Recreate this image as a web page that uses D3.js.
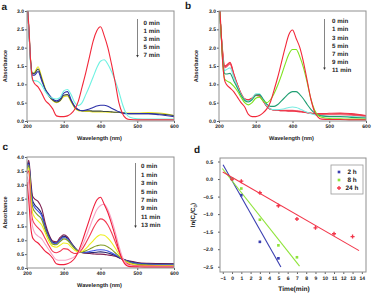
<!DOCTYPE html>
<html><head><meta charset="utf-8">
<script src="https://cdn.jsdelivr.net/npm/d3@7"></script>
<style>
body{margin:0;background:#fff;-webkit-font-smoothing:antialiased}
svg{display:block}
text{font-family:"Liberation Sans",Arial,sans-serif;font-weight:bold;fill:#1a1a1a;text-rendering:geometricPrecision}
</style>
</head><body>
<svg id="chart" width="373" height="294"></svg>
<script>
// ---------- DATA ----------
const wl = [200,205,210,215,220,230,240,250,260,270,280,290,300,310,320,330,340,350,360,370,380,390,400,410,420,430,440,450,460,470,480,500,530,560,600];
const wlTicks = [200,300,400,500,600];

// panel a
const aLabels = ["0 min","1 min","3 min","5 min","7 min"];
const a0 = [3.2,2.6,1.6,1.15,1.03,0.93,0.76,0.56,0.46,0.33,0.14,0.12,0.12,0.14,0.2,0.32,0.55,0.93,1.32,1.75,2.18,2.46,2.57,2.33,2.0,1.55,1.05,0.5,0.2,0.07,0.04,0.03,0.03,0.03,0.03];
const a1 = [3.3,2.5,1.5,1.1,1.1,1.08,0.98,0.8,0.68,0.62,0.6,0.64,0.82,0.86,0.72,0.5,0.42,0.5,0.72,0.95,1.2,1.45,1.63,1.67,1.55,1.35,1.1,0.8,0.45,0.2,0.1,0.06,0.05,0.05,0.05];
const a3 = [3.3,2.5,1.6,1.25,1.25,1.35,1.1,0.86,0.72,0.6,0.55,0.6,0.76,0.8,0.58,0.4,0.31,0.28,0.3,0.33,0.37,0.41,0.43,0.43,0.4,0.35,0.3,0.25,0.22,0.2,0.2,0.2,0.2,0.17,0.12];
const a5 = [3.3,2.5,1.6,1.3,1.3,1.42,1.15,0.85,0.68,0.57,0.52,0.56,0.7,0.72,0.55,0.38,0.3,0.28,0.28,0.28,0.27,0.27,0.27,0.26,0.26,0.25,0.24,0.24,0.22,0.21,0.2,0.2,0.2,0.19,0.15];
const a7 = [3.3,2.5,1.65,1.3,1.32,1.48,1.2,0.88,0.68,0.56,0.5,0.55,0.66,0.68,0.52,0.35,0.28,0.27,0.26,0.26,0.25,0.25,0.25,0.25,0.24,0.24,0.24,0.24,0.23,0.22,0.22,0.22,0.23,0.22,0.15];

// panel b
const bLabels = ["0 min","1 min","3 min","5 min","7 min","9 min","11 min"];
const b0 = [3.3,2.6,1.6,1.12,1.0,0.9,0.8,0.65,0.5,0.38,0.18,0.12,0.12,0.15,0.22,0.33,0.52,0.85,1.2,1.6,2.0,2.35,2.48,2.25,2.0,1.6,1.1,0.6,0.25,0.1,0.05,0.04,0.04,0.03,0.03];
const b1 = [3.3,2.5,1.6,1.15,1.1,1.05,0.95,0.82,0.65,0.5,0.44,0.5,0.62,0.65,0.55,0.5,0.58,0.75,0.98,1.25,1.55,1.82,1.95,1.95,1.75,1.45,1.05,0.6,0.3,0.15,0.1,0.07,0.06,0.05,0.05];
const b3 = [3.3,2.5,1.7,1.3,1.28,1.3,1.1,0.9,0.7,0.56,0.52,0.58,0.7,0.72,0.6,0.46,0.4,0.4,0.45,0.55,0.65,0.75,0.8,0.8,0.72,0.6,0.45,0.32,0.22,0.16,0.14,0.12,0.12,0.1,0.08];
const b5 = [3.3,2.5,1.75,1.38,1.4,1.45,1.2,0.95,0.72,0.58,0.54,0.6,0.74,0.74,0.58,0.42,0.33,0.31,0.31,0.32,0.34,0.37,0.38,0.37,0.33,0.28,0.24,0.2,0.17,0.15,0.14,0.13,0.13,0.12,0.1];
const b7 = [3.3,2.5,1.8,1.45,1.47,1.55,1.26,0.98,0.74,0.6,0.57,0.62,0.72,0.7,0.56,0.41,0.32,0.3,0.29,0.29,0.29,0.29,0.29,0.28,0.27,0.25,0.23,0.21,0.19,0.18,0.17,0.17,0.17,0.16,0.12];
const b9 = [3.3,2.5,1.85,1.48,1.5,1.58,1.28,0.99,0.75,0.6,0.58,0.62,0.71,0.69,0.55,0.4,0.32,0.3,0.29,0.28,0.28,0.28,0.28,0.27,0.26,0.25,0.23,0.22,0.2,0.19,0.19,0.19,0.2,0.18,0.14];
const b11 = [3.3,2.5,1.9,1.5,1.52,1.6,1.3,1.0,0.75,0.6,0.58,0.62,0.7,0.68,0.55,0.4,0.32,0.3,0.29,0.28,0.28,0.27,0.27,0.26,0.25,0.24,0.22,0.21,0.2,0.2,0.2,0.21,0.22,0.2,0.15];

// panel c
const cLabels = ["0 min","1 min","3 min","5 min","7 min","9 min","11 min","13 min"];
const c0 = [3.1,2.4,1.5,1.1,1.0,0.9,0.75,0.6,0.5,0.35,0.15,0.12,0.12,0.15,0.22,0.35,0.6,0.95,1.35,1.75,2.15,2.45,2.55,2.3,2.0,1.6,1.15,0.65,0.28,0.1,0.05,0.04,0.03,0.03,0.03];
const c1 = [3.3,3.0,2.0,1.5,1.3,1.15,1.05,0.85,0.65,0.45,0.3,0.28,0.28,0.3,0.34,0.42,0.55,0.8,1.1,1.45,1.8,2.1,2.25,2.3,2.1,1.75,1.3,0.8,0.38,0.15,0.08,0.06,0.05,0.05,0.05];
const c3 = [3.4,3.5,2.3,1.75,1.6,1.45,1.3,1.05,0.8,0.6,0.55,0.6,0.7,0.68,0.58,0.52,0.55,0.68,0.9,1.15,1.42,1.65,1.77,1.72,1.55,1.28,0.95,0.6,0.32,0.18,0.12,0.08,0.07,0.06,0.06];
const c5 = [3.5,3.6,2.6,2.0,1.85,1.7,1.55,1.25,0.95,0.78,0.75,0.82,0.9,0.88,0.76,0.64,0.58,0.6,0.7,0.84,0.98,1.12,1.2,1.18,1.08,0.92,0.72,0.5,0.32,0.22,0.16,0.1,0.09,0.08,0.08];
const c7 = [3.55,3.7,2.8,2.2,2.05,1.9,1.75,1.35,1.05,0.86,0.84,0.95,1.05,1.0,0.85,0.7,0.6,0.58,0.62,0.68,0.75,0.8,0.83,0.82,0.76,0.67,0.55,0.43,0.32,0.24,0.19,0.13,0.11,0.1,0.1];
const c9 = [3.6,3.75,2.9,2.35,2.2,2.05,1.88,1.42,1.1,0.9,0.88,1.0,1.1,1.05,0.88,0.72,0.6,0.57,0.57,0.59,0.62,0.65,0.66,0.65,0.61,0.55,0.48,0.4,0.32,0.26,0.21,0.16,0.13,0.12,0.12];
const c11 = [3.65,3.8,3.0,2.45,2.3,2.15,1.95,1.48,1.14,0.93,0.9,1.03,1.15,1.08,0.9,0.73,0.6,0.56,0.55,0.55,0.56,0.57,0.58,0.57,0.54,0.5,0.45,0.38,0.32,0.27,0.23,0.18,0.15,0.14,0.14];
const c13 = [3.7,3.88,3.2,2.6,2.5,2.4,2.15,1.6,1.2,0.97,0.94,1.1,1.2,1.12,0.92,0.74,0.6,0.55,0.53,0.52,0.51,0.5,0.5,0.49,0.47,0.45,0.42,0.37,0.32,0.28,0.25,0.2,0.17,0.16,0.15];

// panel d
const dLabels = ["2 h","8 h","24 h"];
const dTime2 = [0,1,3,5];
const dLn2 = [0,-0.46,-1.79,-2.26];
const dTime8 = [0,1,3,5,7];
const dLn8 = [0,-0.27,-1.16,-1.89,-2.23];
const dTime24 = [0,1,3,5,7,9,11,13];
const dLn24 = [0,-0.06,-0.39,-0.76,-1.14,-1.39,-1.56,-1.64];
const fit2X = [-0.97,5.27], fit2Y = [0.41,-2.51];
const fit8X = [-1.05,7.28], fit8Y = [0.3,-2.48];
const fit24X = [-1.0,13.7], fit24Y = [0.2,-2.04];
const dXTicks = [-1,0,1,2,3,4,5,6,7,8,9,10,11,12,13,14];
const dYTicks = [0.5,0.0,-0.5,-1.0,-1.5,-2.0,-2.5];

// ---------- DRAW ----------
const svg = d3.select("#chart");
const FRAME = "#8f8f8f";
const INK = "#151515";

function txt(x, y, s, fs) {
  return svg.append("text").attr("x",x).attr("y",y).attr("font-size",fs)
    .attr("fill",INK).attr("font-weight","bold").text(s);
}

function styleAxis(g, fs) {
  g.select(".domain").remove();
  g.selectAll(".tick line").attr("stroke","#333").attr("stroke-width",0.8);
  g.selectAll(".tick text").attr("font-size",fs).attr("font-family",'"Liberation Sans",Arial,sans-serif')
    .attr("font-weight","bold").attr("fill",INK);
}

function panelBase(cfg, x, y, xTicks, yTicks, xFmt, yFmt) {
  svg.append("clipPath").attr("id","clip"+cfg.letter).append("rect")
    .attr("x",cfg.l).attr("y",cfg.t).attr("width",cfg.r-cfg.l).attr("height",cfg.b-cfg.t);
  const xa = svg.append("g").attr("transform",`translate(0,${cfg.b})`)
    .call(d3.axisBottom(x).tickValues(xTicks).tickSize(2).tickPadding(cfg.xPad||1.5).tickFormat(xFmt));
  styleAxis(xa, cfg.tickFs||5);
  const ya = svg.append("g").attr("transform",`translate(${cfg.l},0)`)
    .call(d3.axisLeft(y).tickValues(yTicks).tickSize(2).tickPadding(cfg.yPad||1).tickFormat(yFmt));
  styleAxis(ya, cfg.tickFs||5);
  txt(cfg.lx, cfg.ly, cfg.letter, 10);
}

function frameRect(cfg) {
  svg.append("rect").attr("x",cfg.l).attr("y",cfg.t).attr("width",cfg.r-cfg.l).attr("height",cfg.b-cfg.t)
    .attr("fill","none").attr("stroke",FRAME).attr("stroke-width",1);
}

function spectrum(cfg) {
  const x = d3.scaleLinear().domain([200,600]).range([cfg.l,cfg.r]);
  const y = d3.scaleLinear().domain([0,cfg.yMax]).range([cfg.b,cfg.t]);
  panelBase(cfg, x, y, wlTicks, d3.range(0, cfg.yMax+0.001, 0.5), d3.format("d"), d3.format(".1f"));
  const line = d3.line().x((d,i)=>x(wl[i])).y(d=>y(d)).curve(d3.curveMonotoneX);
  const g = svg.append("g").attr("clip-path",`url(#clip${cfg.letter})`);
  cfg.order.forEach(i => {
    g.append("path").attr("d",line(cfg.series[i])).attr("fill","none")
      .attr("stroke",cfg.colors[i]).attr("stroke-width",1.1).attr("stroke-linejoin","round");
  });
  frameRect(cfg);
  // titles
  svg.append("text").attr("transform",`translate(${cfg.ytx},${(cfg.t+cfg.b)/2}) rotate(-90)`)
    .attr("text-anchor","middle").attr("font-size",5.6).attr("fill",INK).attr("font-weight","bold").text("Absorbance");
  txt((cfg.l+cfg.r)/2-1, cfg.xty, "Wavelength (nm)", 5.6).attr("text-anchor","middle");
  // legend arrow
  svg.append("line").attr("x1",cfg.ax).attr("x2",cfg.ax).attr("y1",cfg.ay0).attr("y2",cfg.ay1-2)
    .attr("stroke","#777").attr("stroke-width",0.9);
  svg.append("path").attr("d",`M${cfg.ax-1.3},${cfg.ay1-2.5}L${cfg.ax+1.3},${cfg.ay1-2.5}L${cfg.ax},${cfg.ay1}Z`).attr("fill","#333");
  cfg.labels.forEach((lab,i) => {
    txt(cfg.lgx, cfg.lgy+i*cfg.lgs, lab, 6.2).attr("dy","0.35em");
  });
}

spectrum({letter:"a", l:27, r:174, t:11, b:121, yMax:3.0, lx:1.5, ly:9.5, ytx:7, xty:139.5,
  series:[a0,a1,a3,a5,a7], colors:["#f2283a","#6ff2e2","#2b2fa8","#3e4a40","#e9e620"],
  order:[4,3,2,1,0], labels:aLabels, ax:137.5, ay0:19, ay1:57.5, lgx:143.5, lgy:22.7, lgs:8.1});

spectrum({letter:"b", l:219, r:366, t:11, b:121, yMax:3.0, lx:185, ly:9, ytx:198, xty:139.5,
  series:[b0,b1,b3,b5,b7,b9,b11], colors:["#f2283a","#7ee21e","#1f9e72","#78ece2","#f06878","#e84858","#f03448"],
  order:[4,5,6,3,2,1,0], labels:bLabels, ax:324.5, ay0:19, ay1:70, lgx:332, lgy:21, lgs:8.2});

spectrum({letter:"c", l:27, r:174, t:157, b:268, yMax:4.0, lx:2.5, ly:150, ytx:7, xty:286.5,
  series:[c0,c1,c3,c5,c7,c9,c11,c13], colors:["#f01e3c","#f8a2c4","#f23a52","#eeee1e","#7f9a22","#3a52e6","#24246e","#7e1e50"],
  order:[7,6,5,4,3,2,1,0], labels:cLabels, ax:135.5, ay0:163, ay1:228, lgx:141, lgy:166, lgs:8.45});

// panel d
(function(){
  const cfg = {letter:"d", l:220, r:366, t:158, b:272, lx:194, ly:153, yPad:5, xPad:2.5, tickFs:5};
  const x = d3.scaleLinear().domain([-1.3,14.45]).range([cfg.l,cfg.r]);
  const y = d3.scaleLinear().domain([-2.65,0.6]).range([cfg.b,cfg.t]);
  panelBase(cfg, x, y, dXTicks, dYTicks, d3.format("d"), d3.format(".1f"));
  const g = svg.append("g").attr("clip-path","url(#clipd)");
  const cols = ["#3b3fb0","#8fe43a","#f2364a"];
  const fits = [[fit2X,fit2Y],[fit8X,fit8Y],[fit24X,fit24Y]];
  const pts = [[dTime2,dLn2],[dTime8,dLn8],[dTime24,dLn24]];
  const line = d3.line().x(d=>x(d[0])).y(d=>y(d[1]));
  fits.forEach((f,i)=>{
    g.append("path").attr("d",line(f[0].map((v,j)=>[v,f[1][j]]))).attr("stroke",cols[i])
      .attr("stroke-width",1.1).attr("fill","none");
  });
  const sq = d3.symbol().type(d3.symbolSquare).size(7);
  const cr = d3.symbol().type(d3.symbolCross).size(9);
  pts.forEach((p,i)=>{
    p[0].forEach((t,j)=>{
      g.append("path").attr("d", i===2 ? cr() : sq())
        .attr("transform",`translate(${x(t)},${y(p[1][j])})`).attr("fill",cols[i]);
    });
  });
  frameRect(cfg);
  // legend
  svg.append("rect").attr("x",331).attr("y",165).attr("width",32).attr("height",29)
    .attr("fill","#fff").attr("stroke","#999").attr("stroke-width",0.8);
  dLabels.forEach((lab,i)=>{
    const yy = 172 + i*8;
    svg.append("path").attr("d", i===2 ? cr() : sq()).attr("transform",`translate(${339},${yy})`).attr("fill",cols[i]);
    txt(i===2 ? 345.5 : 347.5, yy, lab, 6.4).attr("dy","0.35em");
  });
  // titles
  txt(294, 290.5, "Time(min)", 6.6).attr("text-anchor","middle");
  const yt = svg.append("text").attr("transform",`translate(195,${(cfg.t+cfg.b)/2}) rotate(-90)`)
    .attr("text-anchor","middle").attr("font-size",6.2).attr("fill",INK).attr("font-weight","bold");
  yt.append("tspan").text("ln(C");
  yt.append("tspan").attr("font-size",4.5).attr("dy",1.5).text("t");
  yt.append("tspan").attr("dy",-1.5).text("/C");
  yt.append("tspan").attr("font-size",4.5).attr("dy",1.5).text("0");
  yt.append("tspan").attr("dy",-1.5).text(")");
})();
</script>
</body></html>
